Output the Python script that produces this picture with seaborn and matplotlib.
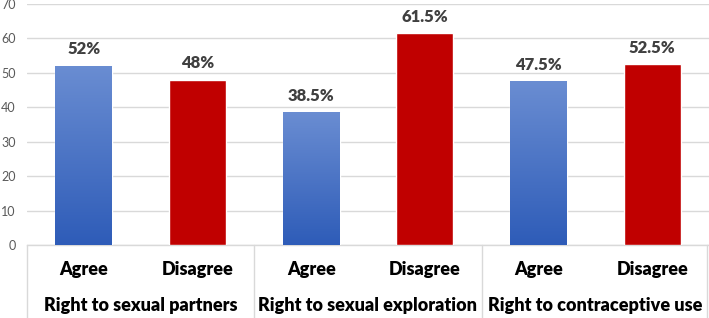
import numpy as np
import pandas as pd
import seaborn as sns
import matplotlib.pyplot as plt
import matplotlib.transforms as mtransforms
from matplotlib.colors import LinearSegmentedColormap

# data
groups = ['Right to sexual partners', 'Right to sexual exploration', 'Right to contraceptive use']
responses = ['Agree', 'Disagree']
agree = [52, 38.5, 47.5]
disagree = [48, 61.5, 52.5]
value_labels = ['52%', '48%', '38.5%', '61.5%', '47.5%', '52.5%']

rows = []
for g, a, d in zip(groups, agree, disagree):
    rows.append({'slot': g + ' - Agree', 'group': g, 'response': 'Agree', 'value': a})
    rows.append({'slot': g + ' - Disagree', 'group': g, 'response': 'Disagree', 'value': d})
df = pd.DataFrame(rows)

sns.set_style('white')
plt.rcParams['font.family'] = ['Lato', 'DejaVu Sans']

fig = plt.figure(figsize=(7.09, 3.18), dpi=100)
ax = fig.add_axes([27 / 709, 73 / 318, 682 / 709, 241 / 318])

sns.barplot(data=df, x='slot', y='value', hue='response', dodge=False, width=0.5,
            palette={'Agree': '#4472C4', 'Disagree': '#C00000'}, saturation=1,
            legend=False, ax=ax, zorder=3)

ax.set_ylim(0, 70)
ax.set_xlim(-0.5, 5.5)
ax.set_yticks(range(0, 71, 10))
ax.grid(axis='y', color='#D9D9D9', linewidth=1, zorder=0)
ax.set_axisbelow(True)
for s in ['left', 'right', 'top']:
    ax.spines[s].set_visible(False)
ax.spines['bottom'].set_color('#D9D9D9')
ax.spines['bottom'].set_linewidth(1)
ax.tick_params(axis='y', length=0, labelsize=9, labelcolor='#595959', pad=8)
ax.set_xticks([])
ax.set_xlabel('')
ax.set_ylabel('')

# gradient on blue bars
grad = np.linspace(0, 1, 256).reshape(-1, 1)
blue_cmap = LinearSegmentedColormap.from_list('b', ['#2E5CB8', '#6A8DD2'])
bars = sorted(ax.patches, key=lambda p: p.get_x())
for i, p in enumerate(bars):
    x0, w, h = p.get_x(), p.get_width(), p.get_height()
    if df['response'].iloc[i] == 'Agree':
        im = ax.imshow(grad, cmap=blue_cmap, aspect='auto', origin='lower',
                       extent=[x0, x0 + w, 0, h], zorder=4)
        im.set_clip_path(p)
    ax.text(x0 + w / 2, h + 2.5, value_labels[i], ha='center', va='bottom',
            fontsize=12, fontweight='heavy', color='#404040')
ax.set_xlim(-0.5, 5.5)
ax.set_ylim(0, 70)

# category table below the axis
trans = mtransforms.blended_transform_factory(ax.transData, ax.transAxes)
for xb in [-0.5, 1.5, 3.5, 5.48]:
    ax.plot([xb, xb], [0, -73 / 241], transform=trans, color='#D9D9D9',
            linewidth=1, clip_on=False)
for i in range(6):
    ax.text(i, -25 / 241, df['response'].iloc[i], transform=trans, ha='center',
            va='center', fontsize=13, fontweight='heavy', color='black')
for j, g in enumerate(groups):
    ax.text(2 * j + 0.5, -60 / 241, g, transform=trans, ha='center',
            va='center', fontsize=13, fontweight='heavy', color='black')

fig.savefig('out.png', dpi=100)
